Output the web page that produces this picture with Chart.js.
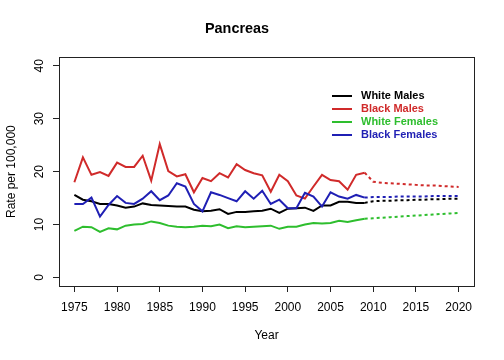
<!DOCTYPE html>
<html>
<head>
<meta charset="utf-8">
<script src="https://cdn.jsdelivr.net/npm/chart.js@4/dist/chart.umd.min.js"></script>
<style>
  html, body { margin: 0; padding: 0; background: #fff; }
  #wrap { width: 504px; height: 360px; }
</style>
</head>
<body>
<div id="wrap"><canvas id="c" width="504" height="360"></canvas></div>
<script>
// --- DATA ---
const years = [1975,1976,1977,1978,1979,1980,1981,1982,1983,1984,1985,1986,1987,1988,1989,1990,1991,1992,1993,1994,1995,1996,1997,1998,1999,2000,2001,2002,2003,2004,2005,2006,2007,2008,2009];
const whiteMales   = [15.6,14.7,14.4,13.9,13.9,13.6,13.2,13.4,14.0,13.7,13.6,13.5,13.4,13.4,12.8,12.5,12.6,12.9,12.0,12.4,12.4,12.5,12.6,13.0,12.2,13.0,13.1,13.2,12.6,13.6,13.6,14.3,14.3,14.1,14.1];
const blackMales   = [18.0,22.7,19.4,19.9,19.2,21.7,20.9,20.9,23.0,18.3,25.2,20.1,19.1,19.5,16.1,18.8,18.2,19.7,18.9,21.4,20.3,19.7,19.3,16.2,19.4,18.2,15.5,14.9,17.2,19.4,18.4,18.2,16.6,19.4,19.8];
const whiteFemales = [8.8,9.6,9.5,8.6,9.3,9.1,9.8,10.0,10.1,10.6,10.3,9.8,9.6,9.5,9.6,9.8,9.7,10.0,9.3,9.7,9.5,9.6,9.7,9.8,9.2,9.6,9.6,10.0,10.3,10.2,10.3,10.7,10.5,10.8,11.1];
const blackFemales = [13.9,13.9,15.1,11.5,13.7,15.4,14.1,13.9,14.9,16.3,14.6,15.5,17.8,17.2,13.9,12.5,16.1,15.6,15.0,14.4,16.3,14.9,16.4,13.9,14.7,13.1,13.1,16.0,15.3,13.4,16.1,15.3,14.9,15.6,15.1];

// projections (dotted)
const projYears = [2009,2010,2011,2012,2013,2014,2015,2016,2017,2018,2019,2020];
const projWhiteMales   = [14.1,14.4,14.5,14.5,14.6,14.6,14.7,14.7,14.8,14.8,14.9,14.9];
const projBlackMales   = [19.8,18.1,17.9,17.8,17.7,17.6,17.5,17.4,17.4,17.3,17.2,17.1];
const projWhiteFemales = [11.1,11.2,11.3,11.4,11.5,11.6,11.7,11.8,11.9,12.0,12.1,12.2];
const projBlackFemales = [15.1,15.2,15.2,15.2,15.3,15.3,15.3,15.3,15.4,15.4,15.4,15.4];

const seriesNames = ['White Males', 'Black Males', 'White Females', 'Black Females'];
const seriesColors = ['#000000', '#D02A2A', '#2EBE2E', '#1F1FB4'];
const xTicks = [1975,1980,1985,1990,1995,2000,2005,2010,2015,2020];
const yTicks = [0,10,20,30,40];

// --- HELPERS ---
const pts = (xs, ys) => xs.map((x, i) => ({ x, y: ys[i] }));
const FONT = '"Liberation Sans", Arial, Helvetica, sans-serif';

const actual = [whiteMales, blackMales, whiteFemales, blackFemales];
const proj = [projWhiteMales, projBlackMales, projWhiteFemales, projBlackFemales];

const datasets = [];
actual.forEach((vals, i) => datasets.push({
  label: seriesNames[i], data: pts(years, vals), borderColor: seriesColors[i],
  borderWidth: 2, pointRadius: 0, tension: 0, order: 10 - i
}));
proj.forEach((vals, i) => datasets.push({
  label: seriesNames[i] + ' (proj)', data: pts(projYears, vals), borderColor: seriesColors[i],
  borderWidth: 2, borderDash: [3, 3], pointRadius: 0, tension: 0, order: 20 - i
}));

// box, rotated y labels and R-style legend
const rDecor = {
  id: 'rDecor',
  afterDraw(chart) {
    const { ctx, chartArea: a } = chart;
    const ys = chart.scales.y;
    ctx.save();
    ctx.strokeStyle = '#222';
    ctx.lineWidth = 1;
    ctx.strokeRect(Math.round(a.left) + 0.5, Math.round(a.top) + 0.5, Math.round(a.right - a.left), Math.round(a.bottom - a.top));

    ctx.fillStyle = '#000';
    ctx.font = '12px ' + FONT;
    ctx.textAlign = 'center';
    ctx.textBaseline = 'middle';
    yTicks.forEach(v => {
      const py = ys.getPixelForValue(v);
      ctx.save();
      ctx.translate(40, py);
      ctx.rotate(-Math.PI / 2);
      ctx.fillText(String(v), 0, 0);
      ctx.restore();
    });

    // legend
    ctx.font = 'bold 11px ' + FONT;
    ctx.textAlign = 'left';
    seriesNames.forEach((name, i) => {
      const y = 96 + i * 13;
      ctx.strokeStyle = seriesColors[i];
      ctx.lineWidth = 2;
      ctx.beginPath(); ctx.moveTo(332, y); ctx.lineTo(352, y); ctx.stroke();
      ctx.fillStyle = seriesColors[i];
      ctx.fillText(name, 361, y);
    });
    ctx.restore();
  }
};

Chart.defaults.font.family = FONT;
Chart.defaults.color = '#000';

new Chart(document.getElementById('c'), {
  type: 'line',
  data: { datasets },
  plugins: [rDecor],
  options: {
    responsive: false,
    animation: false,
    layout: { padding: { top: 0, right: 30, left: 0, bottom: 0 } },
    plugins: {
      legend: { display: false },
      tooltip: { enabled: false },
      title: { display: true, text: 'Pancreas', font: { size: 14.4, weight: 'bold' }, padding: { top: 20.5, bottom: 19.5 }, color: '#000' }
    },
    scales: {
      x: {
        type: 'linear', min: 1973.2, max: 2021.8,
        afterBuildTicks: s => { s.ticks = xTicks.map(v => ({ value: v })); },
        afterFit: s => { s.height = 74; },
        ticks: { font: { size: 12 }, padding: 8, maxRotation: 0, autoSkip: false, callback: v => String(v) },
        grid: { drawOnChartArea: false, drawTicks: true, tickLength: 6, color: '#222' },
        border: { display: false },
        title: { display: true, text: 'Year', font: { size: 12 }, padding: { bottom: 17 } }
      },
      y: {
        type: 'linear', min: -1.6, max: 41.6,
        afterBuildTicks: s => { s.ticks = yTicks.map(v => ({ value: v })); },
        afterFit: s => { s.width = 59; },
        ticks: { display: false },
        grid: { drawOnChartArea: false, drawTicks: true, tickLength: 6, color: '#222' },
        border: { display: false },
        title: { display: true, text: 'Rate per 100,000', font: { size: 12 }, padding: { top: 4.5 } }
      }
    }
  }
});
</script>
</body>
</html>
